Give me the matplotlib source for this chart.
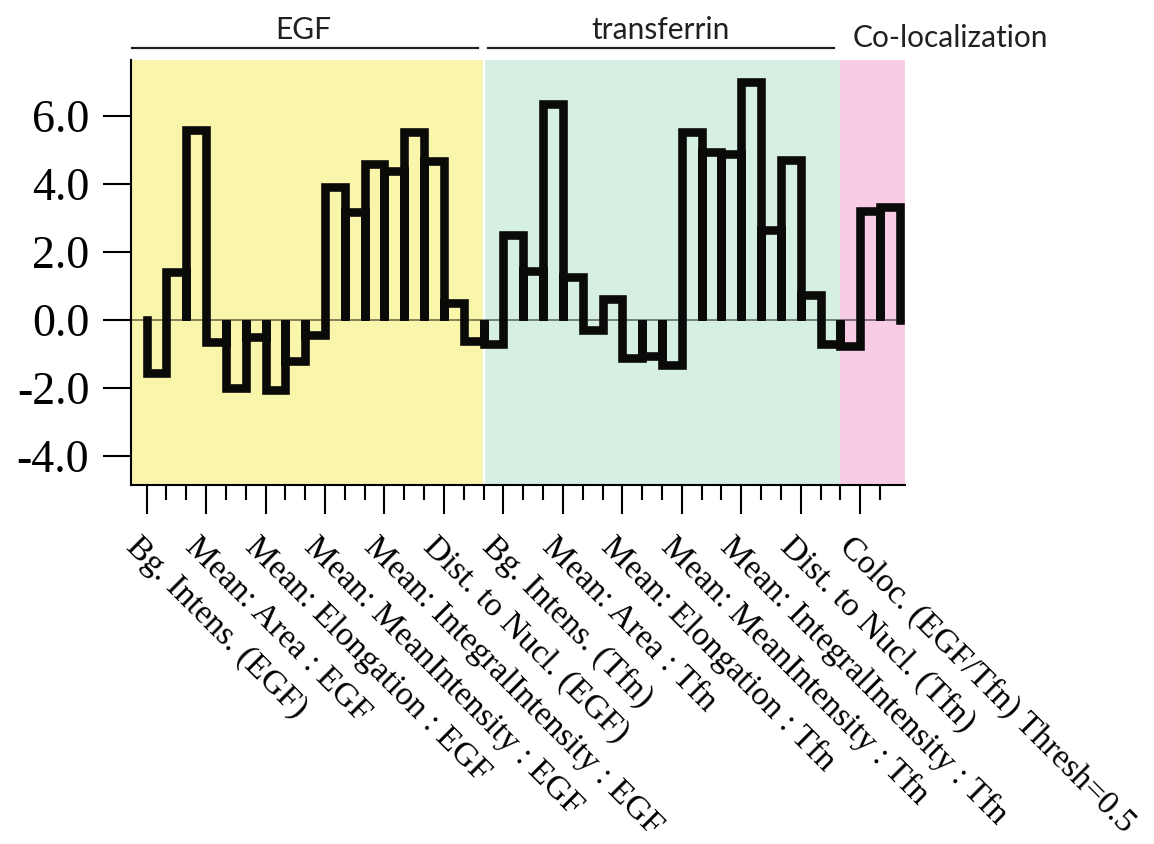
import numpy as np
import matplotlib

matplotlib.use("Agg")
import matplotlib.pyplot as plt
from matplotlib.transforms import ScaledTranslation

# z-scores per feature bin, three bins per feature
egf_scores = [-1.56, 1.40, 5.58, -0.64, -2.01, -0.50, -2.06, -1.20, -0.45,
              3.92, 3.19, 4.58, 4.38, 5.53, 4.68, 0.51, -0.61, -0.71]
tfn_scores = [2.51, 1.45, 6.34, 1.27, -0.30, 0.63, -1.12, -1.07, -1.32,
              5.53, 4.93, 4.88, 7.00, 2.65, 4.72, 0.75, -0.71, -0.76]
coloc_scores = [3.22, 3.31]

feature_labels = [
    "Bg. Intens. (EGF)",
    "Mean: Area : EGF",
    "Mean: Elongation : EGF",
    "Mean: MeanIntensity : EGF",
    "Mean: IntegralIntensity : EGF",
    "Dist. to Nucl. (EGF)",
    "Bg. Intens. (Tfn)",
    "Mean: Area : Tfn",
    "Mean: Elongation : Tfn",
    "Mean: MeanIntensity : Tfn",
    "Mean: IntegralIntensity : Tfn",
    "Dist. to Nucl. (Tfn)",
    "Coloc. (EGF/Tfn) Thresh=0.5",
]
yticks = [-4.0, -2.0, 0.0, 2.0, 4.0, 6.0]
group_names = ["EGF", "transferrin", "Co-localization"]

values = np.array(egf_scores + tfn_scores + coloc_scores)
n = len(values)
bins_per_label = 3

SERIF = "Liberation Serif"
SANS = "Lato"
INK = "#231f20"

fig = plt.figure(figsize=(11.54, 8.44), dpi=100)
ax = fig.add_axes([0.1135, 0.4254, 0.6707, 0.5036])
ax.set_xlim(-0.79, 38.26)
ax.set_ylim(-4.85, 7.65)

# shaded panels for the three groups
ax.axvspan(-0.79, 17, color="#f9f5aa", lw=0, zorder=0)
ax.axvspan(17, 35, color="#d5efe2", lw=0, zorder=0)
ax.axvspan(35, 38.26, color="#f9cce6", lw=0, zorder=0)
ax.axvline(17, color="white", lw=1.6, zorder=0.5)
ax.axhline(0, color="black", alpha=0.55, lw=1.2, zorder=1)

# open bars hanging from zero, drawn as one outline path
path_x = []
path_y = []
for i, v in enumerate(values):
    path_x += [i, i, i + 1, i + 1]
    path_y += [0, v, v, 0]
ax.plot(path_x, path_y, color="#0a0a08", lw=6.2, solid_capstyle="projecting",
        solid_joinstyle="miter", zorder=3)

# axes styling
for side in ("top", "right"):
    ax.spines[side].set_visible(False)
for side in ("left", "bottom"):
    ax.spines[side].set_linewidth(1.5)

ax.set_yticks(yticks)
ax.set_yticklabels([f"{t:.1f}" for t in yticks], family=SERIF, fontsize=33)
ax.tick_params(axis="y", length=20, width=1.5, pad=10)

label_pos = np.arange(0, n, bins_per_label)
ax.set_xticks(label_pos)
ax.set_xticks(np.arange(n), minor=True)
ax.set_xticklabels([])
ax.tick_params(axis="x", which="major", length=21, width=1.5)
ax.tick_params(axis="x", which="minor", length=11, width=1.5)

shift = ScaledTranslation(-5 / 100, -46 / 100, fig.dpi_scale_trans)
for pos, lab in zip(label_pos, feature_labels):
    ax.text(pos, 0, lab, transform=ax.get_xaxis_transform() + shift,
            rotation=-45, rotation_mode="anchor", ha="left", va="top",
            family=SERIF, fontsize=24.3, color="black", clip_on=False)

# group headers above the panels
xa = ax.get_xaxis_transform()
ax.plot([-0.75, 16.7], [1.029, 1.029], transform=xa, color=INK, lw=1.6,
        clip_on=False)
ax.plot([17.2, 34.7], [1.029, 1.029], transform=xa, color=INK, lw=1.6,
        clip_on=False)
ax.text(7.9, 1.05, group_names[0], transform=xa, ha="center", va="baseline",
        family=SANS, fontsize=21.5, color=INK)
ax.text(25.95, 1.05, group_names[1], transform=xa, ha="center", va="baseline",
        family=SANS, fontsize=21.5, color=INK)
ax.text(35.6, 1.031, group_names[2], transform=xa, ha="left", va="baseline",
        family=SANS, fontsize=21.5, color=INK)

fig.savefig("out.png", dpi=100)
